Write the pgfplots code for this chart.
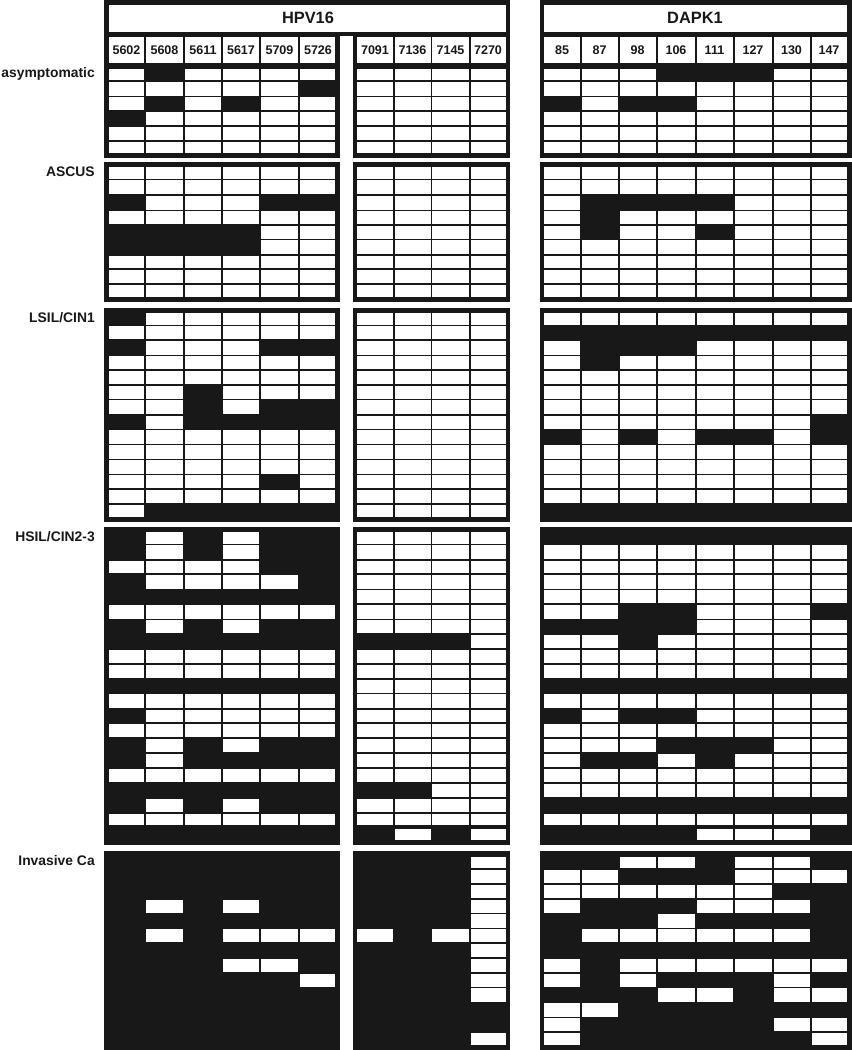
\documentclass[border=0pt]{standalone}
\usepackage{pgfplots}
\usepackage{pgfplotstable}
\usepackage{fontspec}
\setmainfont{Liberation Sans}
\pgfplotsset{compat=1.18}
\definecolor{ink}{HTML}{181818}

% t,b = top and bottom of the row in pixels; 1 = methylated (black), 0 = white
% a = HPV16 5602-5726, m = HPV16 7091-7270, d = DAPK1 85-147
\pgfplotstableread{
t b a1 a2 a3 a4 a5 a6 m1 m2 m3 m4 d1 d2 d3 d4 d5 d6 d7 d8
36.7 63.3 0 0 0 0 0 0 0 0 0 0 0 0 0 0 0 0 0 0
68.7 80.3 0 1 0 0 0 0 0 0 0 0 0 0 0 1 1 1 0 0
82 95.7 0 0 0 0 0 1 0 0 0 0 0 0 0 0 0 0 0 0
97 110 0 1 0 1 0 0 0 0 0 0 1 0 1 1 0 0 0 0
111.7 125.3 1 0 0 0 0 0 0 0 0 0 0 0 0 0 0 0 0 0
127 140 0 0 0 0 0 0 0 0 0 0 0 0 0 0 0 0 0 0
141.7 153.3 0 0 0 0 0 0 0 0 0 0 0 0 0 0 0 0 0 0
}\asymptomatic
\pgfplotstableread{
t b a1 a2 a3 a4 a5 a6 m1 m2 m3 m4 d1 d2 d3 d4 d5 d6 d7 d8
167 179 0 0 0 0 0 0 0 0 0 0 0 0 0 0 0 0 0 0
180.3 194.3 0 0 0 0 0 0 0 0 0 0 0 0 0 0 0 0 0 0
195.7 209.7 1 0 0 0 1 1 0 0 0 0 0 1 1 1 1 0 0 0
210.7 224 0 0 0 0 0 0 0 0 0 0 0 1 0 0 0 0 0 0
225.7 238.7 1 1 1 1 0 0 0 0 0 0 0 1 0 0 1 0 0 0
240 254 1 1 1 1 0 0 0 0 0 0 0 0 0 0 0 0 0 0
255.7 268.3 0 0 0 0 0 0 0 0 0 0 0 0 0 0 0 0 0 0
270 283.3 0 0 0 0 0 0 0 0 0 0 0 0 0 0 0 0 0 0
285 296.7 0 0 0 0 0 0 0 0 0 0 0 0 0 0 0 0 0 0
}\ascus
\pgfplotstableread{
t b a1 a2 a3 a4 a5 a6 m1 m2 m3 m4 d1 d2 d3 d4 d5 d6 d7 d8
313 324.7 1 0 0 0 0 0 0 0 0 0 0 0 0 0 0 0 0 0
326.3 339.3 0 0 0 0 0 0 0 0 0 0 1 1 1 1 1 1 1 1
341 355 1 0 0 0 1 1 0 0 0 0 0 1 1 1 0 0 0 0
356 369 0 0 0 0 0 0 0 0 0 0 0 1 0 0 0 0 0 0
370.7 384.3 0 0 0 0 0 0 0 0 0 0 0 0 0 0 0 0 0 0
386 399 0 0 1 0 0 0 0 0 0 0 0 0 0 0 0 0 0 0
400.3 414 0 0 1 0 1 1 0 0 0 0 0 0 0 0 0 0 0 0
415.7 428.7 1 0 1 1 1 1 0 0 0 0 0 0 0 0 0 0 0 1
430.3 443.7 0 0 0 0 0 0 0 0 0 0 1 0 1 0 1 1 0 1
445.3 458.7 0 0 0 0 0 0 0 0 0 0 0 0 0 0 0 0 0 0
460.3 473.7 0 0 0 0 0 0 0 0 0 0 0 0 0 0 0 0 0 0
475 488.3 0 0 0 0 1 0 0 0 0 0 0 0 0 0 0 0 0 0
490 503.3 0 0 0 0 0 0 0 0 0 0 0 0 0 0 0 0 0 0
505 516.7 0 1 1 1 1 1 0 0 0 0 1 1 1 1 1 1 1 1
}\lsil
\pgfplotstableread{
t b a1 a2 a3 a4 a5 a6 m1 m2 m3 m4 d1 d2 d3 d4 d5 d6 d7 d8
532.3 543.7 1 0 1 0 1 1 0 0 0 0 1 1 1 1 1 1 1 1
545.3 559 1 0 1 0 1 1 0 0 0 0 0 0 0 0 0 0 0 0
560.7 573.3 0 0 0 0 1 1 0 0 0 0 0 0 0 0 0 0 0 0
575 588.7 1 0 0 0 0 1 0 0 0 0 0 0 0 0 0 0 0 0
590.3 603.3 1 1 1 1 1 1 0 0 0 0 0 0 0 0 0 0 0 0
605 618.7 0 0 0 0 0 0 0 0 0 0 0 0 1 1 0 0 0 1
620.3 633 1 0 1 0 1 1 0 0 0 0 1 1 1 1 0 0 0 0
635 648.3 1 1 1 1 1 1 1 1 1 0 0 0 1 0 0 0 0 0
650.3 663 0 0 0 0 0 0 0 0 0 0 0 0 0 0 0 0 0 0
664.7 678.3 0 0 0 0 0 0 0 0 0 0 0 0 0 0 0 0 0 0
680 692.7 1 1 1 1 1 1 0 0 0 0 1 1 1 1 1 1 1 1
694.3 708 0 0 0 0 0 0 0 0 0 0 0 0 0 0 0 0 0 0
709.7 722.3 1 0 0 0 0 0 0 0 0 0 1 0 1 1 0 0 0 0
724 737.3 0 0 0 0 0 0 0 0 0 0 0 0 0 0 0 0 0 0
739.3 752 1 0 1 0 1 1 0 0 0 0 0 0 0 1 1 1 0 0
754 767.3 1 0 1 1 1 1 0 0 0 0 0 1 1 0 1 0 0 0
769.3 782 0 0 0 0 0 0 0 0 0 0 0 0 0 0 0 0 0 0
783.7 797.3 1 1 1 1 1 1 1 1 0 0 0 0 0 0 0 0 0 0
799.3 812 1 0 1 0 1 1 0 0 0 0 1 1 1 1 1 1 1 1
813.7 825 0 0 0 0 0 0 0 0 0 0 0 0 0 0 0 0 0 0
829.3 840.3 1 1 1 1 1 1 1 0 1 0 1 1 1 1 0 0 0 1
}\hsil
\pgfplotstableread{
t b a1 a2 a3 a4 a5 a6 m1 m2 m3 m4 d1 d2 d3 d4 d5 d6 d7 d8
856.7 868.3 1 1 1 1 1 1 1 1 1 0 1 1 0 0 1 0 0 1
870 883.3 1 1 1 1 1 1 1 1 1 0 0 0 1 1 1 0 0 0
884.7 898 1 1 1 1 1 1 1 1 1 0 0 0 0 0 0 0 1 1
899.7 912.7 1 0 1 0 1 1 1 1 1 0 0 1 1 1 0 0 0 1
914 927.7 1 1 1 1 1 1 1 1 1 0 1 1 1 0 1 1 1 1
929.3 942.3 1 0 1 0 0 0 0 1 0 0 1 0 0 0 0 0 0 1
944 957 1 1 1 1 1 1 1 1 1 0 1 1 1 1 1 1 1 1
958.7 972 1 1 1 0 0 1 1 1 1 0 0 1 0 0 0 0 0 0
973.7 986.7 1 1 1 1 1 0 1 1 1 0 0 1 0 1 1 1 0 1
988.3 1001.7 1 1 1 1 1 1 1 1 1 0 1 1 1 0 0 1 0 0
1003.3 1016.7 1 1 1 1 1 1 1 1 1 1 0 0 1 1 1 1 1 1
1018 1031.3 1 1 1 1 1 1 1 1 1 1 0 1 1 1 1 1 0 0
1033.3 1045 1 1 1 1 1 1 1 1 1 0 0 1 1 1 1 1 1 0
}\invasive

% white cell, w and h in pixels
\pgfdeclareplotmark{cell}{%
  \pgfsetfillcolor{white}%
  \pgfpathrectangle{\pgfpoint{-0.375*\cellw}{-0.375*\cellh}}{\pgfpoint{0.75*\cellw}{0.75*\cellh}}%
  \pgfusepathqfill}

% #1 table, #2 column, #3 #4 left and right edge of the white cells
\newcommand\cells[4]{%
  \addplot[scatter, only marks, mark=cell, point meta=0,
    scatter/@pre marker code/.code={\scope},
    scatter/@post marker code/.code={\endscope},
    visualization depends on={#4-#3 \as \cellw},
    visualization depends on={\thisrow{b}-\thisrow{t} \as \cellh},
    unbounded coords=discard,
    restrict expr to domain={\thisrow{#2}}{0:0}]
    table[x expr={0.5*(#3+#4)}, y expr={0.5*(\thisrow{t}+\thisrow{b})}] {#1};}

\newcommand\panel[1]{%
  \cells{#1}{a1}{108.7}{144}\cells{#1}{a2}{145.7}{183}\cells{#1}{a3}{184.7}{221}%
  \cells{#1}{a4}{222.7}{259}\cells{#1}{a5}{261}{298}\cells{#1}{a6}{300}{335}%
  \cells{#1}{m1}{357.3}{392.7}\cells{#1}{m2}{394.5}{430.5}%
  \cells{#1}{m3}{432.3}{468.7}\cells{#1}{m4}{470.7}{505.7}%
  \cells{#1}{d1}{544.3}{579.7}\cells{#1}{d2}{581.7}{617.7}\cells{#1}{d3}{619.7}{655.7}%
  \cells{#1}{d4}{657.7}{694.7}\cells{#1}{d5}{696.7}{732.7}\cells{#1}{d6}{734.7}{771.7}%
  \cells{#1}{d7}{773.7}{809.7}\cells{#1}{d8}{811.7}{846.7}}

\newcommand\blocks[2]{%
  \addplot[fill=ink, draw=none] coordinates {(104,#1) (340,#1) (340,#2) (104,#2)} -- cycle;
  \addplot[fill=ink, draw=none] coordinates {(352.7,#1) (510.3,#1) (510.3,#2) (352.7,#2)} -- cycle;
  \addplot[fill=ink, draw=none] coordinates {(539.7,#1) (852,#1) (852,#2) (539.7,#2)} -- cycle;}

\newcommand\side[2]{\node[anchor=east, font=\fontsize{10.4pt}{12pt}\bfseries, text=ink, inner sep=0pt] at (axis cs:95,#1) {#2};}
\newcommand\sample[2]{\node[font=\fontsize{9.4pt}{11pt}\bfseries, text=ink, inner sep=0pt] at (axis cs:#1,50) {#2};}

\pgfplotsset{page/.style={
    at={(0,0)}, anchor=south west,
    x=0.75pt, y=0.75pt, y dir=reverse,
    xmin=0, xmax=852, ymin=0, ymax=1050,
    hide axis, clip=true}}

\begin{document}
\begin{tikzpicture}
\useasboundingbox (0,0) rectangle (639pt,787.5pt);
\begin{axis}[page]
\blocks{0}{158}
\blocks{162.3}{301.7}
\blocks{308.3}{521.7}
\blocks{527}{845}
\blocks{851.3}{1050}
% black bar behind the HPV16 title
\addplot[fill=ink, draw=none] coordinates {(104,0) (510.3,0) (510.3,36) (104,36)} -- cycle;
% title boxes
\addplot[fill=white, draw=none] coordinates {(108.7,5) (505.7,5) (505.7,31.7) (108.7,31.7)} -- cycle;
\addplot[fill=white, draw=none] coordinates {(544.3,5) (846.7,5) (846.7,31.7) (544.3,31.7)} -- cycle;
\panel{\asymptomatic}
\panel{\ascus}
\panel{\lsil}
\panel{\hsil}
\panel{\invasive}
\end{axis}
% second axis: the marks of the first are drawn last, so the text goes on top of them here
\begin{axis}[page]
\node[font=\fontsize{12.3pt}{14pt}\bfseries, text=ink] at (axis cs:308,18) {HPV16};
\node[font=\fontsize{12.3pt}{14pt}\bfseries, text=ink] at (axis cs:695,18) {DAPK1};
\sample{126.5}{5602}\sample{164.5}{5608}\sample{203}{5611}\sample{241}{5617}\sample{279.5}{5709}\sample{318}{5726}
\sample{375}{7091}\sample{412.5}{7136}\sample{450.5}{7145}\sample{488}{7270}
\sample{562}{85}\sample{599.5}{87}\sample{637.5}{98}\sample{676}{106}\sample{714.5}{111}\sample{753}{127}\sample{791.5}{130}\sample{829}{147}
\side{73.5}{asymptomatic}
\side{172}{ASCUS}
\side{317.5}{LSIL/CIN1}
\side{536.5}{HSIL/CIN2-3}
\side{860.5}{Invasive Ca}
\end{axis}
\end{tikzpicture}
\end{document}
